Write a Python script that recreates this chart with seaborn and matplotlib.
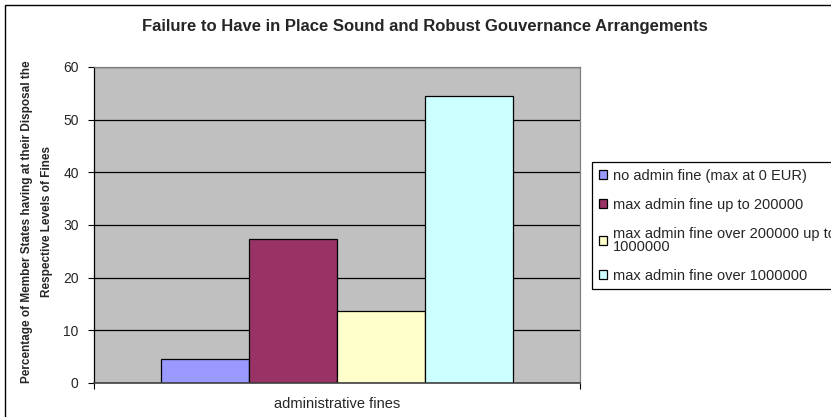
import matplotlib
matplotlib.use("Agg")
import matplotlib.pyplot as plt
import seaborn as sns
import pandas as pd
from matplotlib.patches import Rectangle
from matplotlib.ticker import FixedLocator

# ---- data ----
category = ["administrative fines"]
levels = [
    "no admin fine (max at 0 EUR)",
    "max admin fine up to 200000",
    "max admin fine over 200000 up to\n1000000",
    "max admin fine over 1000000",
]
values = [4.5, 27.3, 13.6, 54.5]
colors = ["#9999FF", "#993366", "#FFFFCC", "#CCFFFF"]
title = "Failure to Have in Place Sound and Robust Gouvernance Arrangements"
ylabel = "Percentage of Member States having at their Disposal the\nRespective Levels of Fines"
yticks = [0, 10, 20, 30, 40, 50, 60]

sns.set_theme(style="white")
plt.rcParams["font.family"] = ["Liberation Sans", "DejaVu Sans"]

df = pd.DataFrame({"group": category * len(levels), "level": levels, "pct": values})

W, H = 831, 417
fig = plt.figure(figsize=(W / 100, H / 100), dpi=100)
fig.patch.set_facecolor("white")
ax = fig.add_axes([94 / W, 1 - 383 / H, (580 - 94) / W, (383 - 67) / H])
ax.set_facecolor("#C0C0C0")

sns.barplot(data=df, x="group", y="pct", hue="level", hue_order=levels,
            palette=colors, width=0.726, saturation=1, edgecolor="black",
            linewidth=0.9, ax=ax)

ax.set_xlim(-0.5, 0.5)
ax.set_ylim(0, 60)
ax.set_yticks(yticks)
ax.set_yticklabels([str(t) for t in yticks], fontsize=10)
ax.yaxis.grid(True, color="black", linewidth=0.9)
ax.xaxis.grid(False)
ax.set_axisbelow(True)

ax.set_xticks([0])
ax.set_xticklabels(category, fontsize=10.5)
ax.xaxis.set_minor_locator(FixedLocator([-0.5, 0.5]))
ax.tick_params(axis="x", which="major", length=0, pad=10)
ax.tick_params(axis="x", which="minor", length=4, direction="out", color="black", width=0.8, bottom=True)
ax.tick_params(axis="y", length=4, direction="out", color="black", width=0.8, pad=7, left=True)
ax.set_xlabel("")

for s in ["top", "right"]:
    ax.spines[s].set_color("#808080")
    ax.spines[s].set_linewidth(0.9)
ax.spines["left"].set_color("black")
ax.spines["left"].set_linewidth(0.9)
ax.spines["bottom"].set_color("#404040")
ax.spines["bottom"].set_linewidth(1.2)

ax.set_ylabel(ylabel, fontsize=8.5, fontweight="bold",
              family=["Liberation Sans Narrow", "Liberation Sans", "DejaVu Sans"],
              linespacing=1.9)
ax.yaxis.set_label_coords((53 - 94) / 486, (383 - 222) / 316)

handles, labels = ax.get_legend_handles_labels()
if ax.get_legend() is not None:
    ax.get_legend().remove()
leg = fig.legend(handles, labels, loc="upper left",
                 bbox_to_anchor=(592 / W, 1 - 162 / H), bbox_transform=fig.transFigure,
                 fontsize=10.5, frameon=True, fancybox=False, framealpha=1,
                 edgecolor="black", handlelength=0.6, handleheight=0.6,
                 handletextpad=0.4, borderpad=0.45, labelspacing=1.05,
                 borderaxespad=0)
leg.get_frame().set_linewidth(0.9)
for t in leg.get_texts():
    t.set_linespacing(0.85)

fig.text(424.5 / W, 1 - 26 / H, title, ha="center", va="center",
         fontsize=12, fontweight="bold")

fig.patches.append(Rectangle((5 / W, -0.5), 2, 1.5 - 5 / H, transform=fig.transFigure,
                             fill=False, edgecolor="black", linewidth=1.0))

fig.savefig("out.png", dpi=100, facecolor="white")
